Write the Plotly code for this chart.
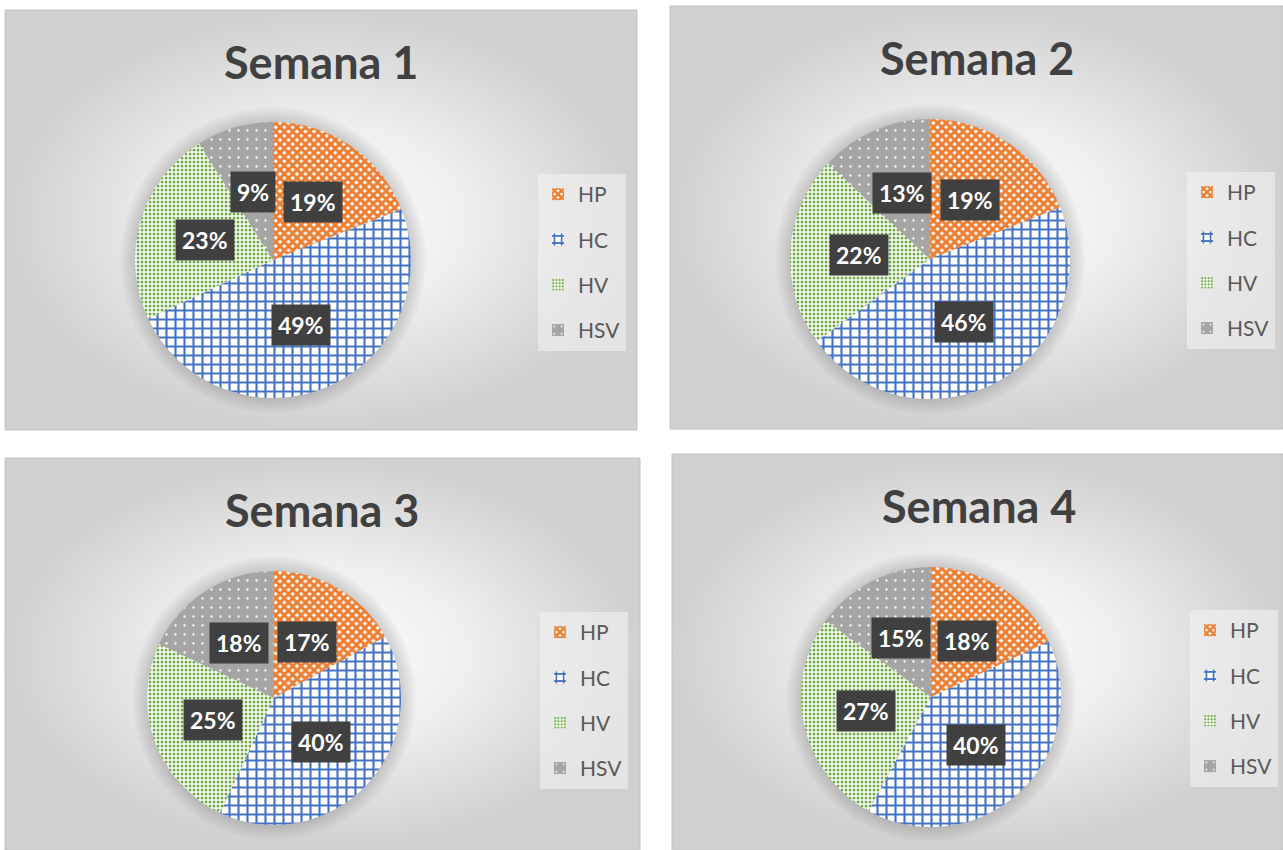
import numpy as np
import plotly.graph_objects as go

W, H = 1283, 850

# ---------------- data ----------------
categories = ["HP", "HC", "HV", "HSV"]
weeks = ["Semana 1", "Semana 2", "Semana 3", "Semana 4"]
semana1 = [19, 49, 23, 9]
semana2 = [19, 46, 22, 13]
semana3 = [17, 40, 25, 18]
semana4 = [18, 40, 27, 15]
week_values = [semana1, semana2, semana3, semana4]

# ---------------- layout (pixels) ----------------
panels = [(5, 10, 637, 430), (670, 6, 1283, 429), (5, 458, 640, 850), (672, 454, 1283, 850)]
pie_geo = [(273, 260, 138), (930, 259, 140), (274, 698, 127), (931, 697, 130)]
title_pos = [(321, 62), (977, 58), (322, 510), (979, 506)]
legend_pos = [(538, 174), (1187, 172), (540, 612), (1190, 610)]
legend_ids = ["legend", "legend2", "legend3", "legend4"]

# ---------------- styles ----------------
fg = ["#ED7D31", "#4472C4", "#70AD47", "#FFFFFF"]
bg = ["#FFFFFF", "#FFFFFF", "#FFFFFF", "#A5A5A5"]
pshape = ["x", "+", ".", "."]
psize = [6, 9, 4, 9]
psolid = [0.75, 0.42, 0.45, 0.05]
FONT = "Lato"

fig = go.Figure()

# panel backgrounds with radial gradient
for (x0, y0, x1, y1) in panels:
    fig.add_trace(go.Scatter(
        x=[x0, x1, x1, x0, x0], y=[y0, y0, y1, y1, y0],
        mode="lines", fill="toself",
        fillgradient=dict(type="radial",
                          colorscale=[[0, "#fdfdfd"], [0.45, "#efefef"], [1, "#d0d0d0"]]),
        line=dict(color="#c2c2c2", width=1),
        hoverinfo="skip", showlegend=False))

# soft shadow halo around each pie
for (cx, cy, r) in pie_geo:
    rr = r + 16
    t = np.linspace(0, 2 * np.pi, 181)
    f = r / rr
    fig.add_trace(go.Scatter(
        x=cx + rr * np.cos(t), y=cy + rr * np.sin(t),
        mode="lines", fill="toself",
        fillgradient=dict(type="radial",
                          colorscale=[[0, "rgba(0,0,0,0.25)"], [f, "rgba(0,0,0,0.16)"],
                                      [1, "rgba(0,0,0,0)"]]),
        line=dict(width=0), hoverinfo="skip", showlegend=False))

annotations = []
for i, vals in enumerate(week_values):
    cx, cy, r = pie_geo[i]
    fig.add_trace(go.Pie(
        labels=categories, values=vals, sort=False, direction="clockwise", rotation=0,
        domain=dict(x=[(cx - r) / W, (cx + r) / W], y=[1 - (cy + r) / H, 1 - (cy - r) / H]),
        marker=dict(colors=fg, line=dict(width=0),
                    pattern=dict(shape=pshape, fgcolor=fg, bgcolor=bg, size=psize,
                                 solidity=psolid, fillmode="replace")),
        textinfo="none", showlegend=False, name=weeks[i],
        hovertemplate="%{label}: %{value}%<extra></extra>"))

    # legend entries (one per category)
    for j, cat in enumerate(categories):
        fig.add_trace(go.Bar(
            x=[None], y=[None], name=cat, legend=legend_ids[i],
            legendgroup=f"{legend_ids[i]}-{cat}",
            marker=dict(color=fg[j], line=dict(width=0),
                        pattern=dict(shape=pshape[j], fgcolor=fg[j], bgcolor=bg[j],
                                     size=psize[j], solidity=psolid[j], fillmode="replace")),
            hoverinfo="skip", showlegend=True))

    # data labels
    total = sum(vals)
    cum = 0
    for v in vals:
        mid = 2 * np.pi * (cum + v / 2) / total
        cum += v
        k = 0.51
        lx = cx + k * r * np.sin(mid)
        ly = cy - k * r * np.cos(mid)
        annotations.append(dict(
            x=lx, y=ly, xref="x", yref="y", text=f"{round(100 * v / total)}%",
            showarrow=False, bgcolor="#404040", borderpad=6, height=28,
            font=dict(family=FONT, size=23, color="white", weight="bold")))

    # title
    tx, ty = title_pos[i]
    annotations.append(dict(
        x=tx, y=ty, xref="x", yref="y", text=weeks[i], showarrow=False,
        font=dict(family=FONT, size=45, color="#404040", weight="bold")))

layout_legends = {}
for i, lid in enumerate(legend_ids):
    lx, ly = legend_pos[i]
    layout_legends[lid] = dict(
        x=lx / W, y=1 - ly / H, xanchor="left", yanchor="top",
        bgcolor="rgba(242,242,242,0.6)", borderwidth=0,
        font=dict(family=FONT, size=21, color="#595959"),
        tracegroupgap=15, traceorder="grouped", itemwidth=30,
        itemclick=False, itemdoubleclick=False)

fig.update_layout(
    width=W, height=H, autosize=False,
    margin=dict(l=0, r=0, t=0, b=0, pad=0),
    paper_bgcolor="white", plot_bgcolor="rgba(0,0,0,0)",
    xaxis=dict(range=[0, W], visible=False, fixedrange=True, domain=[0, 1]),
    yaxis=dict(range=[H, 0], visible=False, fixedrange=True, domain=[0, 1]),
    annotations=annotations,
    showlegend=True,
    **layout_legends,
)

fig.write_html("out.html", config={"displayModeBar": False},
               post_script="document.body.style.margin='0';document.body.style.overflow='hidden';")
